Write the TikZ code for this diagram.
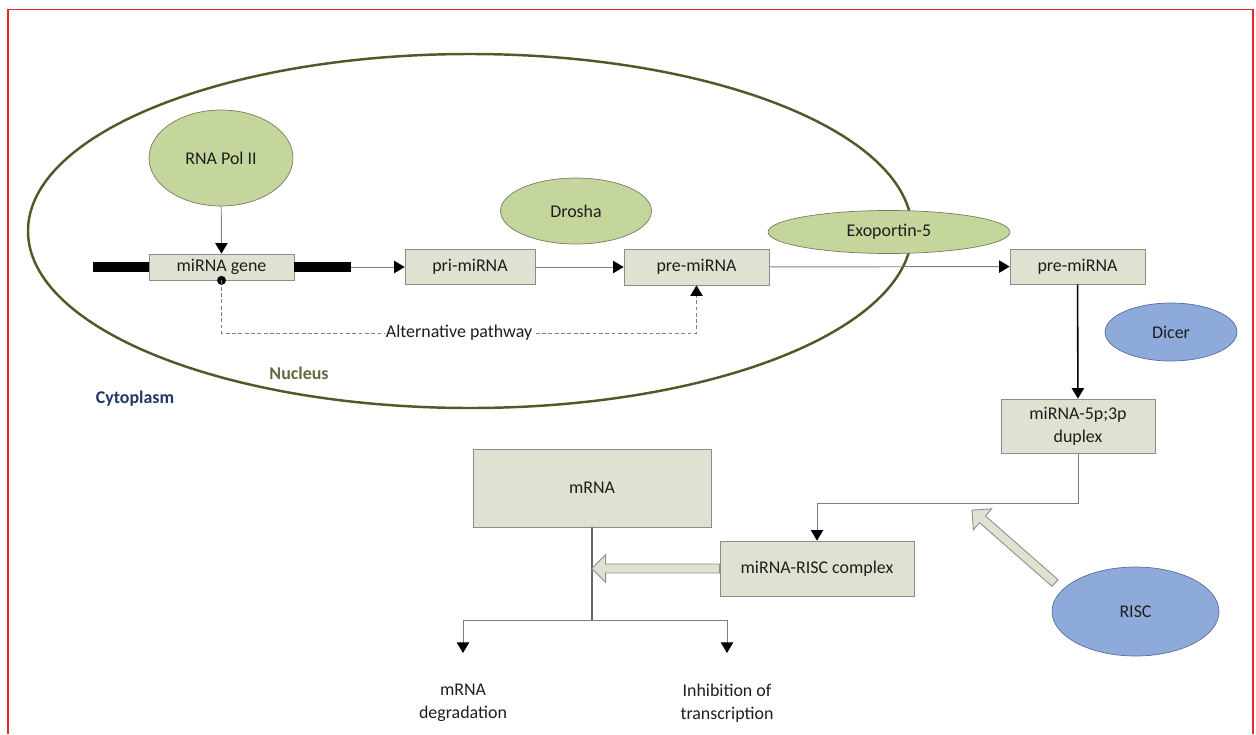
\documentclass[tikz,border=0pt]{standalone}
\usepackage{fontspec}
\setmainfont{Carlito}
\usepackage{tikz}
\usetikzlibrary{arrows.meta}
\usetikzlibrary{shapes.geometric}
\usetikzlibrary{calc}
\definecolor{boxfill}{RGB}{222,227,209}
\definecolor{boxline}{RGB}{140,140,140}
\definecolor{enzgreen}{RGB}{196,214,155}
\definecolor{enzgreenline}{RGB}{115,125,95}
\definecolor{enzblue}{RGB}{142,170,219}
\definecolor{enzblueline}{RGB}{90,110,150}
\definecolor{nucline}{RGB}{79,90,42}
\definecolor{nuctext}{RGB}{96,106,62}
\definecolor{cyttext}{RGB}{31,56,100}
\definecolor{linegray}{RGB}{128,128,128}
\definecolor{framered}{RGB}{228,40,44}
\definecolor{txt}{RGB}{30,30,30}
\tikzset{
   box/.style={
      rectangle, draw=boxline, fill=boxfill, inner sep=0pt,
      text=txt, align=center},
   enzyme/.style={
      ellipse, draw=enzgreenline, fill=enzgreen, inner sep=0pt, text=txt},
   blueenzyme/.style={
      ellipse, draw=enzblueline, fill=enzblue, inner sep=0pt, text=txt},
   flow/.style={draw=linegray, line width=0.55pt,
      -{Triangle[length=6pt, width=7pt, color=black]}},
   mainflow/.style={draw=black, line width=0.9pt,
      -{Triangle[length=6pt, width=7pt, color=black]}},
   altflow/.style={draw=linegray, line width=0.55pt, dash pattern=on 2.2pt off 1.4pt,
      -{Triangle[length=6pt, width=7pt, color=black]}},
   stem/.style={draw=linegray!80!black, line width=0.7pt},
   fatarrow/.style={draw=linegray!90, fill=boxfill, line width=0.5pt},
   outcome/.style={align=center, text=txt},
   nucleus/.style={draw=nucline, line width=1.4pt},
   frame/.style={draw=framered, line width=1.1pt},
    }

\begin{document}
\begin{tikzpicture}[x=0.02cm, y=-0.02cm, font=\fontsize{10.2}{13}\selectfont]
            \useasboundingbox (0,0) rectangle (1256,734);
            \draw[frame] (8,734) -- (8,9.5) -- (1253,9.5) -- (1253,734);
            \draw[nucleus] (470,231) ellipse [x radius=442, y radius=177];
            \node[text=nuctext, font=\fontsize{10.2}{13}\selectfont\bfseries] (nuclbl) at (299,373) {Nucleus};
            \node[text=cyttext, font=\fontsize{10.2}{13}\selectfont\bfseries] (cytlbl) at (135,399) {Cytoplasm};

            \node[enzyme, minimum width=2.88cm, minimum height=1.92cm] (polii) at (221,158) {RNA Pol II};
            \node[enzyme, minimum width=3.02cm, minimum height=1.32cm] (drosha) at (576,211) {Drosha};
            \node[enzyme, minimum width=4.84cm, minimum height=0.86cm] (expo) at (889,232) {Exoportin-5};
            \node[blueenzyme, minimum width=2.64cm, minimum height=1.16cm] (dicer) at (1171,332) {Dicer};
            \node[blueenzyme, minimum width=3.34cm, minimum height=1.78cm] (risc) at (1135.5,611.5) {RISC};

            \node[box, minimum width=2.9cm, minimum height=0.52cm] (gene) at (221.5,267) {miRNA gene};
            \node[box, minimum width=2.6cm, minimum height=0.7cm] (pri) at (470,267) {pri-miRNA};
            \node[box, minimum width=2.9cm, minimum height=0.72cm] (pre) at (696.5,267) {pre-miRNA};
            \node[box, minimum width=2.7cm, minimum height=0.7cm] (precyt) at (1077.5,266.5) {pre-miRNA};
            \node[box, minimum width=3.08cm, minimum height=1.08cm] (duplex) at (1078,426) {miRNA-5p;3p\\duplex};
            \node[box, minimum width=4.76cm, minimum height=1.56cm] (mrna) at (592,488) {mRNA};
            \node[box, minimum width=3.88cm, minimum height=1.1cm] (complex) at (817,568.5) {miRNA-RISC complex};
            \node[outcome] (degr) at (463,703) {mRNA\\degradation};
            \node[outcome] (inhib) at (727,703) {Inhibition of\\transcription};

            \fill (gene.west) ++(0,-5) rectangle ++(-56,10);
            \fill (gene.east) ++(0,-5) rectangle ++(57,10);
            \coordinate (geneend) at ($(gene.east)+(57,0)$);
            \draw[flow] (polii) -- (gene);
            \draw[flow] (geneend) -- (pri);
            \draw[flow] (pri) -- (pre);
            \draw[flow] (pre) -- (precyt);
            \draw[mainflow] (precyt) -- (duplex);

            \fill (gene.south) circle (4.5);
            \coordinate (alt) at (0,333);
            \draw[altflow] (gene.south) -- (gene.south |- alt)
               -- node[fill=white, inner sep=0.6pt, text=txt] (altlbl) {Alternative pathway} (pre.south |- alt)
               -- (pre.south);

            \coordinate (turn) at (duplex.south |- 0,503);
            \draw[flow] (duplex.south) -- (turn) -| (complex.north);

            \coordinate (split) at (mrna.south |- 0,620);
            \draw[stem] (mrna.south) -- (split);
            \draw[flow] (split) -| (degr.north |- 0,653);
            \draw[flow] (split) -| (inhib.north |- 0,653);

            \begin{scope}[shift={(complex.west)}, rotate=180]
               \draw[fatarrow] (0,4.5) -- (114,4.5) -- (114,14) -- (128,0) -- (114,-14) -- (114,-4.5) -- (0,-4.5) -- cycle;
            \end{scope}
            \begin{scope}[shift={(1055,583)}, rotate=138.7]
               \draw[fatarrow] (0,4.5) -- (96.5,4.5) -- (96.5,14) -- (110.5,0) -- (96.5,-14) -- (96.5,-4.5) -- (0,-4.5) -- cycle;
            \end{scope}
        \end{tikzpicture}
\end{document}
